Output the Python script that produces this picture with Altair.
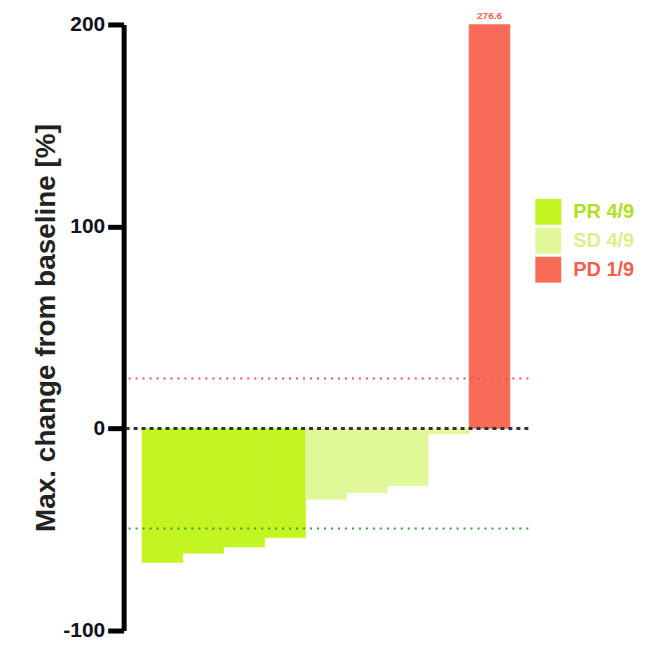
import altair as alt
import pandas as pd

# Data
patients = ["1", "2", "3", "4", "5", "6", "7", "8", "9"]
max_change = [-66.3, -61.8, -58.7, -54.1, -35.1, -31.8, -28.3, -2.7, 276.6]
response = ["PR 4/9", "PR 4/9", "PR 4/9", "PR 4/9",
            "SD 4/9", "SD 4/9", "SD 4/9", "SD 4/9", "PD 1/9"]
categories = ["PR 4/9", "SD 4/9", "PD 1/9"]
colors = ["#c2f522", "#e0f898", "#f76b58"]
ref_values = [0, 24.7, -49.5]
ref_colors = ["#333333", "#f0504a", "#3a9a3a"]
y_ticks = [-100, 0, 100, 200]
y_domain = [-100, 200]

bars_df = pd.DataFrame({"patient": patients, "change": max_change, "response": response})
bars_df["shown"] = bars_df["change"].clip(upper=y_domain[1])
bars_df["label"] = bars_df["change"].map(lambda v: f"{v:.1f}" if v > y_domain[1] else "")

font = "Liberation Sans"

x_enc = alt.X("patient:N", sort=patients, axis=None,
              scale=alt.Scale(paddingInner=0, paddingOuter=0.45))
y_scale = alt.Scale(domain=y_domain, nice=False, zero=False)

bars = alt.Chart(bars_df).mark_bar(strokeWidth=1, strokeOpacity=0.5).encode(
    x=x_enc,
    y=alt.Y("shown:Q", scale=y_scale,
            axis=alt.Axis(values=y_ticks, title="Max. change from baseline [%]",
                          labelExpr="'' + datum.value",
                          grid=False, domainColor="black", domainWidth=5,
                          tickColor="black", tickWidth=5, tickSize=16,
                          labelFontSize=21, labelFontWeight="bold", labelColor="#111122",
                          labelPadding=3, labelFont=font,
                          titleFont=font, titleFontSize=28, titleFontWeight="bold",
                          titleColor="#222222", titlePadding=2)),
    y2=alt.datum(0),
    color=alt.Color("response:N",
                    scale=alt.Scale(domain=categories, range=colors),
                    legend=alt.Legend(title=None, orient="none", legendX=413, legendY=175,
                                      symbolType="square", symbolSize=676,
                                      symbolStrokeWidth=0, symbolOpacity=1,
                                      labelFont=font, labelFontSize=20,
                                      labelFontWeight="bold", labelOffset=12,
                                      rowPadding=3, padding=0,
                                      labelColor={"expr": "datum.label == 'PR 4/9' ? '#aee021' : datum.label == 'SD 4/9' ? '#dcef8c' : '#f45f50'"})),
    stroke=alt.Color("response:N", scale=alt.Scale(domain=categories, range=colors), legend=None),
)

labels = alt.Chart(bars_df).mark_text(fontSize=10, fontWeight="bold", font=font,
                                      color="#f45f50", dy=-8).encode(
    x=x_enc,
    y=alt.Y("shown:Q", scale=y_scale),
    text="label:N",
)

ref_df = pd.DataFrame({"value": ref_values, "col": ref_colors})

zero_rule = alt.Chart(ref_df.iloc[[0]]).mark_rule(strokeDash=[4, 4], strokeWidth=3).encode(
    y=alt.Y("value:Q", scale=y_scale),
    color=alt.Color("col:N", scale=None),
)
thr_rules = alt.Chart(ref_df.iloc[1:]).mark_rule(strokeDash=[2, 5], strokeWidth=2).encode(
    y=alt.Y("value:Q", scale=y_scale),
    color=alt.Color("col:N", scale=None),
)

chart = alt.layer(bars, thr_rules, zero_rule, labels).properties(
    width=406, height=608,
    autosize=alt.AutoSizeParams(type="none"),
    padding={"left": 116, "top": 15.5, "right": 110, "bottom": 14},
).configure_view(stroke=None).resolve_scale(color="independent")

chart.save("out.html", embed_options={"renderer": "svg", "actions": False})
